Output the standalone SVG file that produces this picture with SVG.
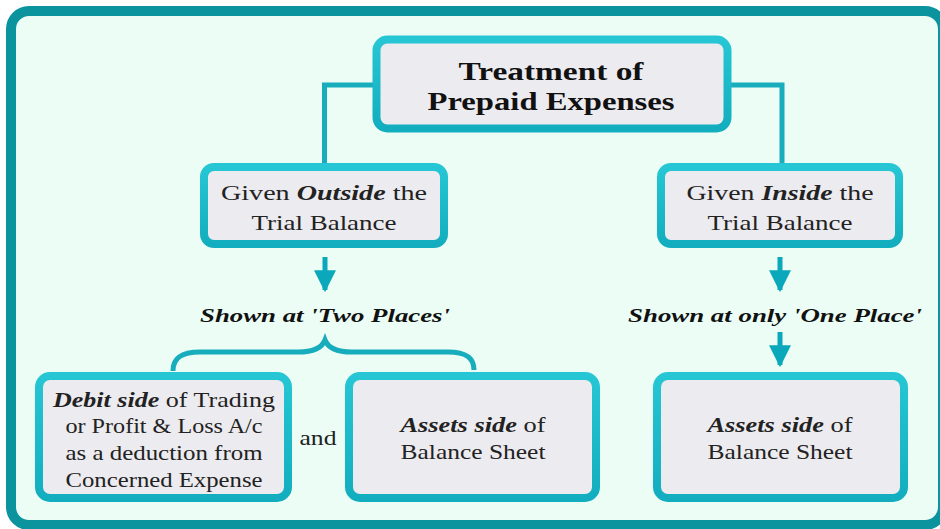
<svg xmlns="http://www.w3.org/2000/svg" width="940" height="529" viewBox="0 0 940 529">
<defs>
<linearGradient id="bd" x1="0" y1="0" x2="0" y2="1">
<stop offset="0" stop-color="#26c6d4"/>
<stop offset="1" stop-color="#12aebf"/>
</linearGradient>
<marker id="ah" viewBox="0 0 10 10" refX="9" refY="5" markerWidth="4.4" markerHeight="4.4" markerUnits="strokeWidth" orient="auto">
<path d="M0,0 L10,5 L0,10 Z" fill="#0aa8ba"/>
</marker>
</defs>
<style>
.box{fill:#ecebef;stroke:url(#bd);stroke-width:8}
text{font-family:"Liberation Serif","Times New Roman",serif}
.t{font-size:21px;fill:#222;text-anchor:middle}
.h{font-size:25px;font-weight:bold;fill:#111;text-anchor:middle}
.bi{font-weight:bold;font-style:italic}
.lbl{font-size:19px;font-weight:bold;font-style:italic;fill:#111;text-anchor:middle}
.ln{fill:none;stroke:#17adbc;stroke-width:5}
.ar{fill:none;stroke:#0aa8ba;stroke-width:5}
</style>
<rect x="11" y="11" width="932" height="514" rx="18" fill="#ebfdf5" stroke="#0b939e" stroke-width="10"/>
<g id="connectors">
<path class="ln" d="M376,85 H324.5 V166"/>
<path class="ln" d="M728,85 H782 V166"/>
<path class="ar" d="M325,257 V290" marker-end="url(#ah)"/>
<path class="ar" d="M780,257 V290" marker-end="url(#ah)"/>
<path class="ar" d="M780,332 V365" marker-end="url(#ah)"/>
<path class="ln" d="M173,371 C173,357 183,352 200,352 L298,352 C314,352 322,348 325,340 C328,348 336,352 352,352 L448,352 C465,352 474,357 474,370"/>
</g>
<g id="root">
<rect class="box" x="376.5" y="39.5" width="351" height="89" rx="11"/>
<text class="h" x="551" y="80" textLength="185" lengthAdjust="spacingAndGlyphs">Treatment of</text>
<text class="h" x="551" y="110" textLength="247" lengthAdjust="spacingAndGlyphs">Prepaid Expenses</text>
</g>
<g id="outside">
<rect class="box" x="204" y="167" width="240" height="77" rx="10"/>
<text class="t" x="324" y="200" textLength="206" lengthAdjust="spacingAndGlyphs">Given <tspan class="bi">Outside</tspan> the</text>
<text class="t" x="324" y="230" textLength="145" lengthAdjust="spacingAndGlyphs">Trial Balance</text>
</g>
<g id="inside">
<rect class="box" x="661" y="167" width="238" height="77" rx="10"/>
<text class="t" x="780" y="200" textLength="187" lengthAdjust="spacingAndGlyphs">Given <tspan class="bi">Inside</tspan> the</text>
<text class="t" x="780" y="230" textLength="145" lengthAdjust="spacingAndGlyphs">Trial Balance</text>
</g>
<g id="lbl-two">
<text class="lbl" x="325" y="322" textLength="250" lengthAdjust="spacingAndGlyphs">Shown at 'Two Places'</text>
</g>
<g id="lbl-one">
<text class="lbl" x="775" y="322" textLength="294" lengthAdjust="spacingAndGlyphs">Shown at only 'One Place'</text>
</g>
<g id="debit">
<rect class="box" x="39" y="376" width="249" height="122" rx="11"/>
<text class="t" x="164" y="407" textLength="222" lengthAdjust="spacingAndGlyphs"><tspan class="bi">Debit side</tspan> of Trading</text>
<text class="t" x="164" y="433" textLength="197" lengthAdjust="spacingAndGlyphs">or Profit &amp; Loss A/c</text>
<text class="t" x="164" y="460" textLength="197" lengthAdjust="spacingAndGlyphs">as a deduction from</text>
<text class="t" x="164" y="487" textLength="197" lengthAdjust="spacingAndGlyphs">Concerned Expense</text>
</g>
<g id="and">
<text class="t" x="318" y="445" textLength="37" lengthAdjust="spacingAndGlyphs">and</text>
</g>
<g id="assets1">
<rect class="box" x="349" y="376" width="247" height="122" rx="11"/>
<text class="t" x="473" y="432" textLength="145" lengthAdjust="spacingAndGlyphs"><tspan class="bi">Assets side</tspan> of</text>
<text class="t" x="473" y="459" textLength="145" lengthAdjust="spacingAndGlyphs">Balance Sheet</text>
</g>
<g id="assets2">
<rect class="box" x="657" y="376" width="247" height="122" rx="11"/>
<text class="t" x="780" y="432" textLength="145" lengthAdjust="spacingAndGlyphs"><tspan class="bi">Assets side</tspan> of</text>
<text class="t" x="780" y="459" textLength="145" lengthAdjust="spacingAndGlyphs">Balance Sheet</text>
</g>
</svg>
